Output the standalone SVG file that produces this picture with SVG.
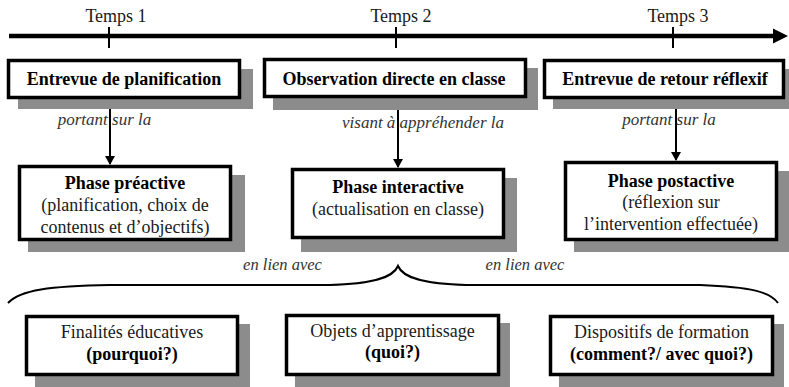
<svg xmlns="http://www.w3.org/2000/svg" width="789" height="387" viewBox="0 0 789 387">
<style>
.box{fill:#fff;stroke:#000;stroke-width:3.5}
.sh{fill:#8c8c8c}
.t{font-family:"Liberation Serif",serif;font-size:18px;fill:#1a1a1a;text-anchor:middle}
.b{font-weight:bold;fill:#000}
.i{font-family:"Liberation Serif",serif;font-style:italic;font-size:17px;fill:#333;text-anchor:middle}
.ln{stroke:#000;stroke-width:2;fill:none}
</style>
<defs>
<marker id="ah" markerWidth="10" markerHeight="10" refX="8" refY="5" orient="auto" markerUnits="userSpaceOnUse">
<path d="M0,0 L9,5 L0,10 Z" fill="#000"/>
</marker>
</defs>
<rect width="789" height="387" fill="#fff"/>

<g id="timeline">
<line x1="9" y1="36" x2="775" y2="36" stroke="#000" stroke-width="4.5"/>
<path d="M773,28.5 L788,36 L773,43.5 Z" fill="#000"/>
<line x1="109" y1="27" x2="109" y2="48" stroke="#000" stroke-width="2"/>
<line x1="396" y1="27" x2="396" y2="48" stroke="#000" stroke-width="2"/>
<line x1="673" y1="27" x2="673" y2="48" stroke="#000" stroke-width="2"/>
<text class="t" x="116" y="22">Temps 1</text>
<text class="t" x="401" y="22">Temps 2</text>
<text class="t" x="678" y="22">Temps 3</text>
</g>

<g id="connectors">
<line class="ln" x1="110" y1="98" x2="110" y2="164" marker-end="url(#ah)"/>
<line class="ln" x1="398" y1="97" x2="398" y2="167" marker-end="url(#ah)"/>
<line class="ln" x1="676" y1="98" x2="676" y2="160" marker-end="url(#ah)"/>
<path class="ln" d="M8,303 C20,290 50,286 110,285 L330,285 C372,284 393,278 398,266 C403,278 424,284 466,285 L700,285 C752,287 770,292 778,303"/>
<text class="i" x="104.5" y="125">portant sur la</text>
<text class="i" x="423" y="128">visant à appréhender la</text>
<text class="i" x="669" y="125">portant sur la</text>
<text class="i" x="282.5" y="270" style="font-size:16.5px">en lien avec</text>
<text class="i" x="525" y="270" style="font-size:16.5px">en lien avec</text>
</g>

<g id="entrevue-planification">
<rect class="sh" x="18" y="69" width="235" height="40"/>
<rect class="box" x="8.5" y="60.5" width="231" height="37"/>
<text class="t b" x="124" y="85">Entrevue de planification</text>
</g>
<g id="observation-directe">
<rect class="sh" x="273" y="68" width="265" height="42"/>
<rect class="box" x="264.5" y="59.5" width="261" height="37"/>
<text class="t b" x="394" y="85">Observation directe en classe</text>
</g>
<g id="entrevue-retour">
<rect class="sh" x="553" y="69" width="236" height="40"/>
<rect class="box" x="544.5" y="60.5" width="239" height="37"/>
<text class="t b" x="665" y="85">Entrevue de retour réflexif</text>
</g>

<g id="phase-preactive">
<rect class="sh" x="28" y="175" width="217" height="77"/>
<rect class="box" x="19.5" y="166.5" width="211" height="73"/>
<text class="t b" x="125" y="189">Phase préactive</text>
<text class="t" x="125" y="211">(planification, choix de</text>
<text class="t" x="125" y="233">contenus et d’objectifs)</text>
</g>
<g id="phase-interactive">
<rect class="sh" x="301" y="178" width="216" height="74"/>
<rect class="box" x="292.5" y="169.5" width="211" height="68"/>
<text class="t b" x="398" y="193">Phase interactive</text>
<text class="t" x="398" y="215">(actualisation en classe)</text>
</g>
<g id="phase-postactive">
<rect class="sh" x="574" y="171" width="215" height="81"/>
<rect class="box" x="565.5" y="162.5" width="211" height="77"/>
<text class="t b" x="671" y="187">Phase postactive</text>
<text class="t" x="671" y="208">(réflexion sur</text>
<text class="t" x="671" y="230">l’intervention effectuée)</text>
</g>

<g id="finalites">
<rect class="sh" x="35" y="324" width="215" height="63"/>
<rect class="box" x="26.5" y="316.5" width="211" height="58"/>
<text class="t" x="132" y="338">Finalités éducatives</text>
<text class="t b" x="132" y="360">(pourquoi?)</text>
</g>
<g id="objets">
<rect class="sh" x="295" y="323" width="215" height="64"/>
<rect class="box" x="286.5" y="315.5" width="212" height="59"/>
<text class="t" x="392.5" y="337">Objets d’apprentissage</text>
<text class="t b" x="392.5" y="358">(quoi?)</text>
</g>
<g id="dispositifs">
<rect class="sh" x="559" y="324" width="225" height="63"/>
<rect class="box" x="550.5" y="316.5" width="222" height="58"/>
<text class="t" x="661.5" y="338">Dispositifs de formation</text>
<text class="t b" x="661.5" y="360">(comment?/ avec quoi?)</text>
</g>
</svg>
